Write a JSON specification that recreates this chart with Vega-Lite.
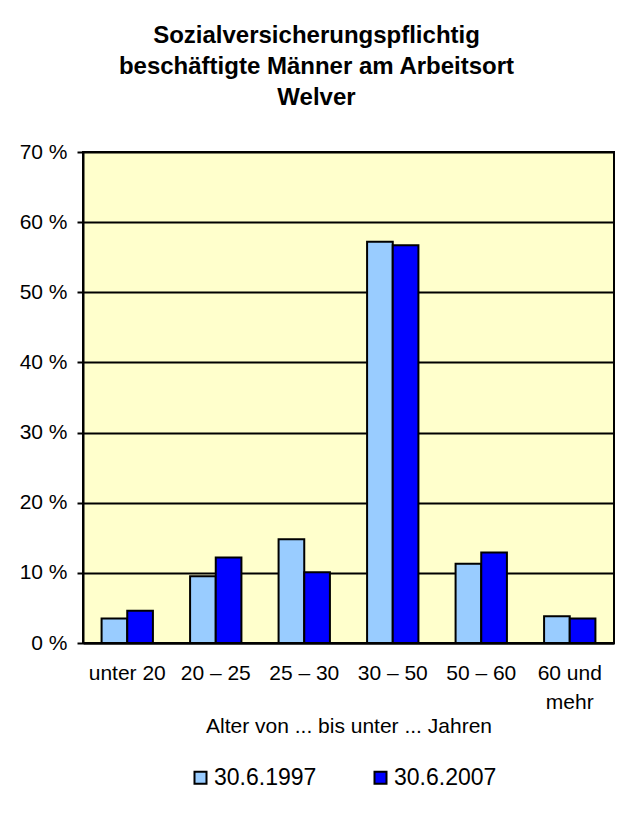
{
  "$schema": "https://vega.github.io/schema/vega-lite/v6.json",
  "width": 531,
  "height": 491,
  "autosize": {"type": "none"},
  "padding": {"left": 83, "top": 152, "right": 18, "bottom": 182},
  "background": "white",
  "title": {
    "text": ["Sozialversicherungspflichtig", "beschäftigte Männer am Arbeitsort", "Welver"],
    "font": "Liberation Sans",
    "fontSize": 24,
    "fontWeight": "bold",
    "lineHeight": 31,
    "color": "black",
    "anchor": "middle",
    "dx": -32,
    "offset": 31
  },
  "data": {
    "values": [
      {"age": "unter 20", "date": "30.6.1997", "pct": 3.5},
      {"age": "unter 20", "date": "30.6.2007", "pct": 4.6},
      {"age": "20 – 25", "date": "30.6.1997", "pct": 9.5},
      {"age": "20 – 25", "date": "30.6.2007", "pct": 12.2},
      {"age": "25 – 30", "date": "30.6.1997", "pct": 14.8},
      {"age": "25 – 30", "date": "30.6.2007", "pct": 10.1},
      {"age": "30 – 50", "date": "30.6.1997", "pct": 57.2},
      {"age": "30 – 50", "date": "30.6.2007", "pct": 56.7},
      {"age": "50 – 60", "date": "30.6.1997", "pct": 11.3},
      {"age": "50 – 60", "date": "30.6.2007", "pct": 12.9},
      {"age": "60 und mehr", "date": "30.6.1997", "pct": 3.8},
      {"age": "60 und mehr", "date": "30.6.2007", "pct": 3.5}
    ]
  },
  "mark": {"type": "bar", "stroke": "black", "strokeWidth": 2},
  "encoding": {
    "x": {
      "field": "age",
      "type": "nominal",
      "sort": null,
      "scale": {"paddingInner": 0.42, "paddingOuter": 0.21},
      "title": "Alter von ... bis unter ... Jahren",
      "axis": {
        "labelAngle": 0,
        "labelFont": "Liberation Sans",
        "labelFontSize": 21,
        "labelColor": "black",
        "labelPadding": 19,
        "labelLineHeight": 29,
        "labelExpr": "datum.label == '60 und mehr' ? ['60 und', 'mehr'] : datum.label",
        "ticks": false,
        "domainColor": "black",
        "domainWidth": 2,
        "titleFont": "Liberation Sans",
        "titleFontSize": 21,
        "titleFontWeight": "normal",
        "titleColor": "black",
        "titlePadding": 3
      }
    },
    "xOffset": {
      "field": "date",
      "type": "nominal",
      "sort": null,
      "scale": {"paddingInner": 0, "paddingOuter": 0}
    },
    "y": {
      "field": "pct",
      "type": "quantitative",
      "scale": {"domain": [0, 70], "nice": false},
      "title": null,
      "axis": {
        "values": [0, 10, 20, 30, 40, 50, 60, 70],
        "labelExpr": "datum.value + ' %'",
        "labelFont": "Liberation Sans",
        "labelFontSize": 21,
        "labelColor": "black",
        "labelPadding": 10,
        "tickColor": "black",
        "tickSize": 6,
        "tickWidth": 2,
        "domainColor": "black",
        "domainWidth": 2,
        "grid": true,
        "gridColor": "black",
        "gridWidth": 2,
        "gridOpacity": 1
      }
    },
    "color": {
      "field": "date",
      "type": "nominal",
      "scale": {"domain": ["30.6.1997", "30.6.2007"], "range": ["#99CCFF", "#0000FF"]},
      "legend": {
        "orient": "none",
        "legendX": 106,
        "legendY": 614,
        "direction": "horizontal",
        "title": null,
        "symbolType": "square",
        "symbolSize": 144,
        "symbolStrokeColor": "black",
        "symbolStrokeWidth": 2,
        "symbolOpacity": 1,
        "labelFont": "Liberation Sans",
        "labelFontSize": 23,
        "labelColor": "black",
        "labelOffset": 2,
        "columnPadding": 52
      }
    }
  },
  "config": {
    "view": {"fill": "#FFFFCC", "stroke": "black", "strokeWidth": 2},
    "font": "Liberation Sans"
  }
}
